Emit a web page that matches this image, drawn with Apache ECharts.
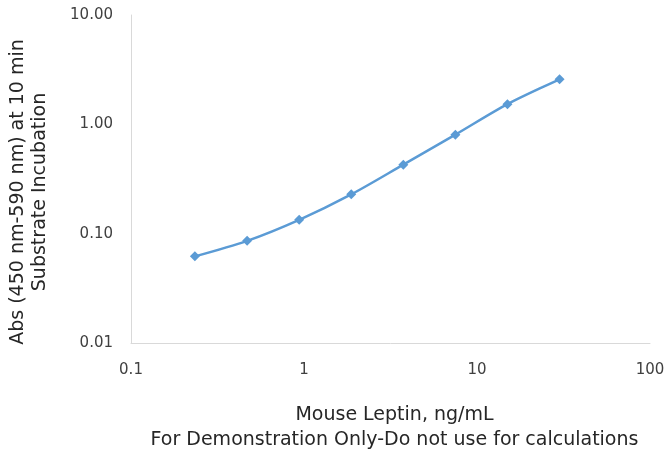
<!DOCTYPE html>
<html>
<head>
<meta charset="utf-8">
<script src="https://cdn.jsdelivr.net/npm/echarts@6/dist/echarts.min.js"></script>
<style>
html,body{margin:0;padding:0;background:#fff;}
#c{width:670px;height:454px;}
</style>
</head>
<body>
<div id="c"></div>
<script>
const concentrations = [0.234, 0.469, 0.938, 1.875, 3.75, 7.5, 15, 30];
const absorbance = [0.062, 0.086, 0.134, 0.229, 0.428, 0.805, 1.53, 2.58];
const xTickLabels = ['0.1', '1', '10', '100'];
const yTickLabels = ['0.01', '0.10', '1.00', '10.00'];
const xTitle = 'Mouse Leptin, ng/mL\nFor Demonstration Only-Do not use for calculations';
const yTitle = 'Abs (450 nm-590 nm) at 10 min\nSubstrate Incubation';

const points = concentrations.map((x, i) => [x, absorbance[i]]);
const font = "'DejaVu Sans'";

const chart = echarts.init(document.getElementById('c'));
chart.setOption({
  animation: false,
  grid: {left: 131, right: 20, top: 15, bottom: 111, containLabel: false, outerBoundsMode: 'none'},
  xAxis: {
    type: 'log', logBase: 10, min: 0.1, max: 100,
    axisLine: {show: true, lineStyle: {color: '#d9d9d9', width: 1}},
    axisTick: {show: false},
    splitLine: {show: false},
    minorTick: {show: false},
    axisLabel: {
      margin: 20, color: '#404040', fontSize: 15, fontFamily: font,
      formatter: v => { const i = Math.round(Math.log10(v)) + 1; return xTickLabels[i] ?? ''; }
    },
    name: xTitle, nameLocation: 'middle', nameGap: 60,
    nameTextStyle: {color: '#262626', fontSize: 19, fontFamily: font, lineHeight: 25, padding: [0, 0, 0, 8]}
  },
  yAxis: {
    type: 'log', logBase: 10, min: 0.01, max: 10,
    axisLine: {show: true, lineStyle: {color: '#d9d9d9', width: 1}},
    axisTick: {show: false},
    splitLine: {show: false},
    axisLabel: {
      margin: 18, color: '#404040', fontSize: 15, fontFamily: font,
      formatter: v => { const i = Math.round(Math.log10(v)) + 2; return yTickLabels[i] ?? ''; }
    },
    name: yTitle, nameLocation: 'middle', nameGap: 80,
    nameTextStyle: {color: '#262626', fontSize: 19, fontFamily: font, lineHeight: 22, padding: [0, 26, 0, 0]}
  },
  series: [{
    type: 'line',
    data: points,
    smooth: 0.3,
    symbol: 'diamond',
    symbolSize: 10,
    lineStyle: {color: '#5b9bd5', width: 2.5},
    itemStyle: {color: '#5b9bd5'}
  }]
});
</script>
</body>
</html>
